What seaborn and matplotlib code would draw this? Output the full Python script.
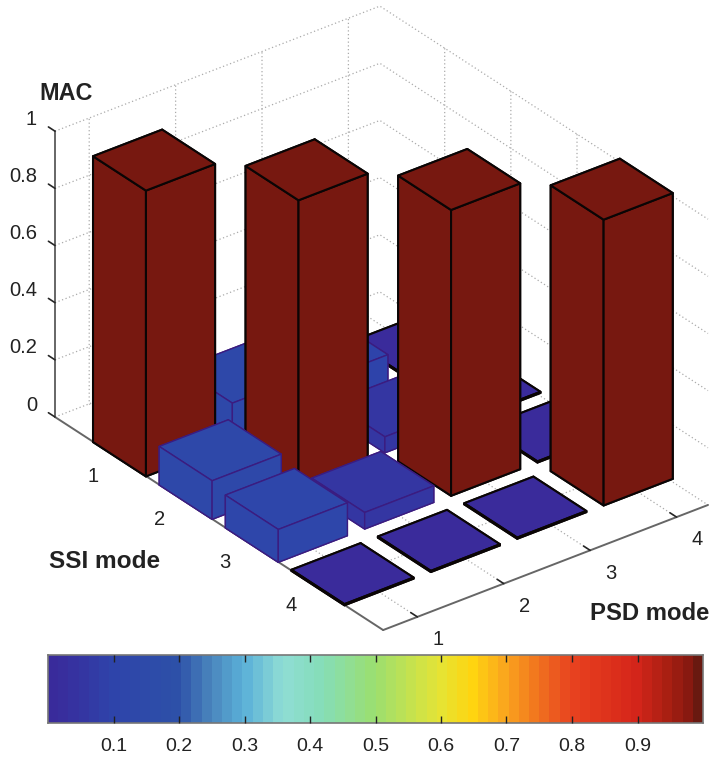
import numpy as np
import matplotlib
matplotlib.use("Agg")
import matplotlib.pyplot as plt
import seaborn as sns
from matplotlib.colors import LinearSegmentedColormap
from mpl_toolkits.mplot3d import proj3d

ssi_modes = [1, 2, 3, 4]
psd_modes = [1, 2, 3, 4]
mac_row1 = [1.0, 0.140, 0.100, 0.004]
mac_row2 = [0.135, 1.0, 0.056, 0.004]
mac_row3 = [0.115, 0.058, 1.0, 0.004]
mac_row4 = [0.004, 0.004, 0.004, 1.0]
z_ticks = [0, 0.2, 0.4, 0.6, 0.8, 1]
z_labels = ["0", "0.2", "0.4", "0.6", "0.8", "1"]
cbar_ticks = [0.1, 0.2, 0.3, 0.4, 0.5, 0.6, 0.7, 0.8, 0.9]
cmap_stops = [0, 0.03, 0.1, 0.2, 0.25, 0.3, 0.36, 0.42, 0.5, 0.6, 0.65, 0.7, 0.8, 0.9, 0.95, 0.99, 1]
cmap_cols = ["#3A2A9A", "#372F9E", "#2E44AA", "#2D50A8", "#4A86BD", "#5AB0D8", "#8FDDD5", "#85DDB8",
             "#9BDF70", "#E5E435", "#FFD510", "#FAA61E", "#E8431F", "#D5251A", "#A81F12", "#7E1710", "#5C1A10"]

W, H = 709, 757
sns.set_theme(style="white")
plt.rcParams["font.family"] = ["Liberation Sans", "DejaVu Sans"]
text_col = "#222222"
cmap = LinearSegmentedColormap.from_list("mac", list(zip(cmap_stops, cmap_cols)))

fig = plt.figure(figsize=(W / 100, H / 100), dpi=100)
ax = fig.add_axes([0, 0, 1, 1], projection="3d", proj_type="ortho", computed_zorder=False)
ax.patch.set_alpha(0)
ax.view_init(elev=30, azim=-127.6)
ax.set_box_aspect((410, 537.8, 330))
xlo, xhi = 0.604, 4.364
ylo, yhi = 0.02, 4.98
ax.set_xlim(xlo, xhi, view_margin=0)
ax.set_ylim(yhi, ylo, view_margin=0)
ax.set_zlim(0, 1, view_margin=0)

mac = np.array([mac_row1, mac_row2, mac_row3, mac_row4])
w = 0.8
order = 0
for i, s in enumerate(ssi_modes):
    for j in reversed(range(len(psd_modes))):
        p = psd_modes[j]
        v = mac[i, j]
        big_or_flat = v > 0.5 or v < 0.02
        order += 1
        ax.bar3d(p - w / 2, s - w / 2, 0, w, w, v, color=cmap(min(float(v), 0.99)), shade=False,
                 edgecolor="#0a0505" if big_or_flat else "#3B1C80",
                 linewidth=1.5 if big_or_flat else 1.0, zorder=10 + order)

ax.set_xticks(psd_modes)
ax.set_yticks(ssi_modes)
ax.set_zticks(z_ticks)
ax.set_xticklabels([str(m) for m in psd_modes], ha="left", va="center")
ax.set_yticklabels([str(m) for m in ssi_modes], ha="right", va="bottom")
ax.set_zticklabels(z_labels, ha="right", va="bottom")
ax.tick_params(axis="both", labelsize=14.5, labelcolor=text_col)
ax.tick_params(axis="x", pad=4.5)
ax.tick_params(axis="y", pad=10)
ax.tick_params(axis="z", pad=-0.5)
tick_dirs = {"x": 1, "y": 0, "z": 1}
for name, a in (("x", ax.xaxis), ("y", ax.yaxis), ("z", ax.zaxis)):
    a.set_pane_color((1, 1, 1, 0))
    a.pane.set_edgecolor((1, 1, 1, 0))
    a.line.set_color("#666666")
    a.line.set_linewidth(1.4)
    a._axinfo["grid"].update(color="#ABABAB", linewidth=0.9, linestyle=(0, (1, 2)))
    a._axinfo["tick"]["color"] = "#555555"
    a._axinfo["tick"]["inward_factor"] = 0.0
    a._axinfo["tick"]["outward_factor"] = 0.25
    a._axinfo["tick"]["linewidth"] = {True: 1.2, False: 0.8}
    a._get_tickdir = (lambda d: (lambda pos: d))(tick_dirs[name])

# place the cube so that its floor corners fall where the reference has them
fig.canvas.draw()
def px(x, y, z):
    X, Y, _ = proj3d.proj_transform(x, y, z, ax.get_proj())
    return ax.transData.transform((X, Y))
left = px(xlo, ylo, 0)
right = px(xhi, yhi, 0)
S0 = ax.get_position().width * W
c0 = np.array([ax.get_position().x0 * W, ax.get_position().y0 * H]) + S0 / 2
target_l = np.array([55.0, H - 417.0])
target_r = np.array([708.0, H - 505.0])
S1 = S0 * (target_r[0] - target_l[0]) / (right[0] - left[0])
u = (left - c0) / S0
c1 = target_l - u * S1
ax.set_position([(c1[0] - S1 / 2) / W, (c1[1] - S1 / 2) / H, S1 / W, S1 / H])

fig.text(39 / W, 1 - 93 / H, "MAC", fontsize=16.8, fontweight="bold", color=text_col, va="center", ha="left")
fig.text(49 / W, 1 - 562 / H, "SSI mode", fontsize=17.6, fontweight="bold", color=text_col, va="center", ha="left")
fig.text(590 / W, 1 - 613 / H, "PSD mode", fontsize=17.2, fontweight="bold", color=text_col, va="center", ha="left")

cax = fig.add_axes([48 / W, 1 - 723 / H, 655 / W, 68 / H])
levels = (np.arange(64) + 0.5) / 64
sns.heatmap(levels.reshape(1, -1), cmap=cmap, vmin=0, vmax=1, cbar=False, ax=cax,
            xticklabels=False, yticklabels=False)
cax.set_axisbelow(False)
cax.set_xticks(np.array(cbar_ticks) * 64)
cax.set_xticklabels([str(t) for t in cbar_ticks], rotation=0)
cax.tick_params(axis="x", direction="in", length=5, width=1, color="#222222", top=True, bottom=True,
                labelsize=14, labelcolor=text_col, pad=11)
cax.set_yticks([])
for sp in cax.spines.values():
    sp.set_visible(True)
    sp.set_color("#777777")
    sp.set_linewidth(1.2)

fig.savefig("out.png", dpi=100)
